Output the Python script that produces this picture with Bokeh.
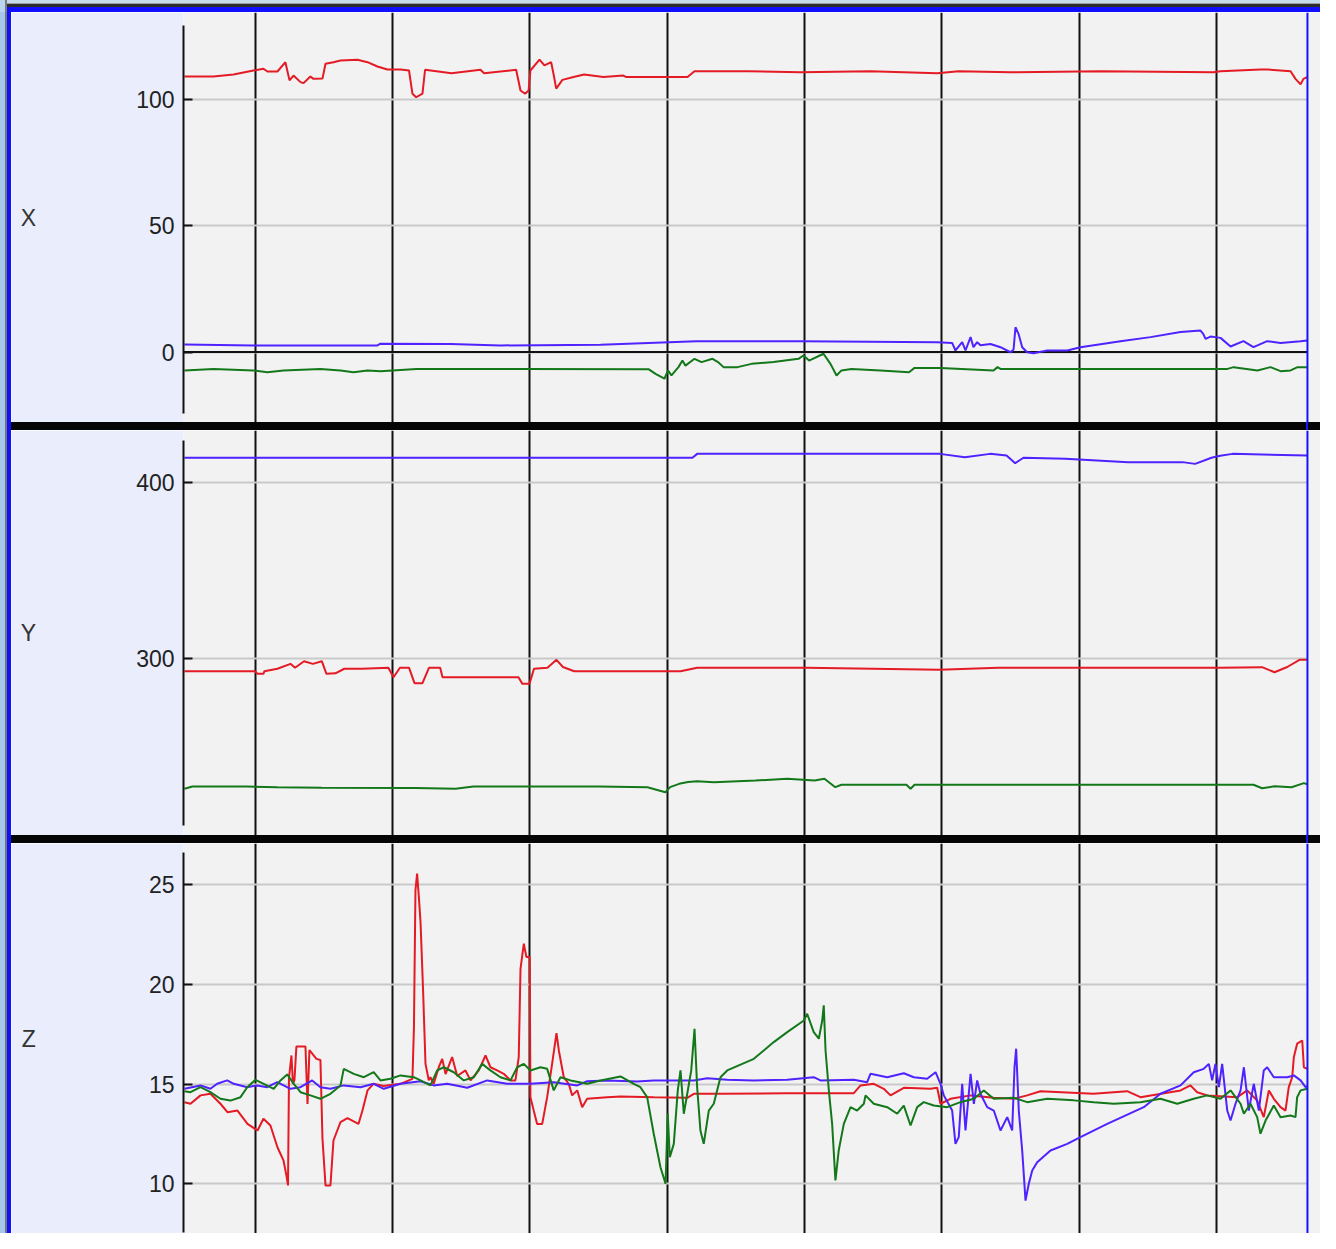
from bokeh.plotting import figure
from bokeh.layouts import column, row
from bokeh.models import Range1d, FixedTicker, Span, BoxAnnotation, Div
from bokeh.embed import file_html
from bokeh.resources import INLINE

# ---------------- data (time in s, values per channel) ----------------
grid_t = [1, 2, 3, 4, 5, 6, 7, 8]
cursor_t = 8.662
t_start, t_end = 0.478, 8.757

# Panel X
x_red_t = [0.485, 0.696, 0.842, 0.987, 1.060, 1.089, 1.162, 1.220, 1.250, 1.279, 1.330, 1.352,
           1.402, 1.424, 1.490, 1.512, 1.570, 1.621, 1.745, 1.818, 1.890, 1.963, 2.058, 2.120,
           2.145, 2.172, 2.218, 2.237, 2.429, 2.640, 2.667, 2.900, 2.932, 2.965, 2.991, 3.004,
           3.070, 3.106, 3.155, 3.172, 3.192, 3.237, 3.318, 3.395, 3.536, 3.681, 3.704, 4.148,
           4.199, 4.592, 4.971, 5.480, 5.966, 6.121, 6.500, 7.155, 7.978, 8.029, 8.320, 8.371,
           8.539, 8.575, 8.612, 8.633, 8.660]
x_red_v = [109.2, 109.2, 110.0, 111.6, 112.3, 111.2, 111.2, 114.9, 107.7, 109.6, 107.0, 106.6,
           109.2, 108.3, 108.4, 114.3, 114.9, 115.6, 115.9, 114.9, 113.2, 112.0, 112.0, 111.6,
           102.4, 101.0, 102.4, 111.9, 110.5, 111.9, 110.5, 111.9, 103.7, 102.4, 103.7, 111.6,
           115.9, 113.6, 114.9, 110.3, 104.4, 107.9, 109.0, 110.0, 109.0, 109.6, 109.0, 109.0,
           111.3, 111.3, 110.9, 111.3, 110.5, 111.3, 110.9, 111.3, 110.9, 111.3, 112.0, 112.0,
           111.3, 108.3, 106.1, 108.3, 109.0]

x_blue_t = [0.485, 0.987, 1.890, 1.912, 2.422, 2.786, 3.514, 4.213, 4.971, 5.966, 6.075, 6.099,
            6.148, 6.172, 6.209, 6.230, 6.257, 6.281, 6.354, 6.427, 6.500, 6.522, 6.536, 6.558,
            6.585, 6.621, 6.667, 6.767, 6.913, 7.009, 7.301, 7.519, 7.738, 7.883, 7.903, 7.920,
            7.956, 8.029, 8.102, 8.196, 8.269, 8.369, 8.466, 8.612, 8.660]
x_blue_v = [3.0, 2.6, 2.6, 3.3, 3.2, 2.6, 2.9, 4.3, 4.3, 3.9, 3.6, 0.6,
            3.9, 0.6, 5.9, 1.9, 3.9, 2.7, 3.2, 1.9, -0.1, 1.0, 9.8, 7.2,
            1.9, -0.1, -0.5, 0.6, 0.6, 1.9, 4.3, 5.9, 7.9, 8.5, 7.2, 5.2,
            6.1, 5.6, 2.2, 4.3, 1.9, 4.3, 3.6, 4.3, 4.6]

x_green_t = [0.485, 0.696, 0.987, 1.089, 1.206, 1.475, 1.621, 1.716, 1.818, 1.912, 2.174, 2.956,
             3.864, 3.915, 3.980, 4.006, 4.031, 4.082, 4.111, 4.133, 4.199, 4.250, 4.330, 4.370,
             4.410, 4.512, 4.614, 4.774, 4.956, 4.992, 5.033, 5.138, 5.189, 5.233, 5.269, 5.342,
             5.553, 5.761, 5.801, 5.990, 6.376, 6.405, 6.427, 8.080, 8.124, 8.298, 8.393, 8.466,
             8.539, 8.590, 8.660]
x_green_v = [-7.3, -6.7, -7.3, -8.0, -7.3, -6.7, -7.3, -8.0, -7.3, -7.6, -6.7, -6.7,
             -6.8, -8.7, -10.6, -7.3, -9.3, -6.0, -3.4, -5.4, -2.7, -4.0, -2.7, -4.0,
             -6.0, -6.0, -4.7, -4.0, -2.7, -1.4, -3.4, -0.7, -4.7, -9.3, -7.3, -6.7,
             -7.3, -8.0, -6.3, -6.3, -7.3, -6.0, -6.7, -6.7, -6.0, -7.3, -6.0, -7.6,
             -7.3, -6.0, -6.0]

# Panel Y
y_red_t = [0.485, 0.998, 1.017, 1.060, 1.067, 1.162, 1.257, 1.290, 1.356, 1.420, 1.485, 1.519,
           1.584, 1.649, 1.778, 1.970, 2.007, 2.054, 2.120, 2.160, 2.218, 2.266, 2.347, 2.364,
           2.917, 2.946, 2.997, 3.030, 3.128, 3.194, 3.241, 3.323, 4.097, 4.218, 5.011, 5.983,
           6.412, 8.022, 8.332, 8.422, 8.515, 8.604, 8.661]
y_red_v = [292.6, 292.6, 291.1, 291.1, 292.6, 294.0, 296.8, 294.6, 298.3, 296.8, 298.3, 291.1,
           291.4, 294.0, 294.0, 294.6, 289.2, 294.6, 294.6, 285.8, 285.8, 294.6, 294.6, 289.2,
           289.2, 285.4, 285.4, 294.0, 294.6, 299.1, 295.0, 292.6, 292.6, 294.6, 294.6, 293.4,
           294.6, 294.6, 294.9, 292.0, 295.0, 299.1, 299.1]

y_blue_t = [0.485, 4.184, 4.218, 5.986, 6.168, 6.351, 6.471, 6.534, 6.594, 6.900, 7.357, 7.752,
            7.844, 7.963, 8.027, 8.116, 8.661]
y_blue_v = [414.1, 414.1, 416.3, 416.3, 414.4, 416.3, 415.4, 411.0, 414.1, 413.5, 411.6, 411.6,
            410.6, 414.1, 415.2, 416.3, 415.4]

y_green_t = [0.485, 0.543, 0.933, 1.161, 1.485, 2.167, 2.458, 2.589, 3.500, 3.856, 3.987, 4.021,
             4.087, 4.151, 4.218, 4.341, 4.643, 4.874, 5.073, 5.145, 5.224, 5.269, 5.742, 5.772,
             5.801, 8.269, 8.332, 8.422, 8.546, 8.636, 8.661]
y_green_v = [225.7, 227.0, 227.0, 226.6, 226.3, 226.1, 225.7, 227.0, 227.0, 226.6, 223.7, 226.6,
             228.5, 229.5, 230.0, 229.4, 230.4, 231.4, 230.4, 231.4, 226.6, 228.0, 228.0, 225.7,
             228.0, 228.0, 226.0, 227.1, 226.6, 228.9, 228.3]

# Panel Z
z_red_t = [0.485, 0.529, 0.602, 0.674, 0.747, 0.798, 0.871, 0.944, 1.017, 1.060, 1.111, 1.162,
           1.206, 1.228, 1.239, 1.246, 1.264, 1.275, 1.286, 1.300, 1.366, 1.381, 1.395, 1.446,
           1.475, 1.490, 1.512, 1.548, 1.570, 1.621, 1.672, 1.752, 1.781, 1.818, 1.861, 1.934,
           2.058, 2.145, 2.156, 2.167, 2.179, 2.191, 2.204, 2.223, 2.240, 2.264, 2.276, 2.300,
           2.337, 2.362, 2.386, 2.434, 2.471, 2.531, 2.568, 2.628, 2.677, 2.713, 2.762, 2.810,
           2.859, 2.895, 2.919, 2.932, 2.956, 2.975, 2.999, 3.004, 3.028, 3.053, 3.090, 3.126,
           3.162, 3.194, 3.211, 3.247, 3.283, 3.308, 3.345, 3.381, 3.417, 3.563, 3.660, 3.902,
           4.146, 4.194, 4.388, 4.874, 5.359, 5.408, 5.504, 5.577, 5.626, 5.723, 5.917, 5.966,
           5.990, 6.063, 6.209, 6.378, 6.524, 6.621, 6.718, 7.104, 7.349, 7.446, 7.738, 7.810,
           7.859, 7.932, 8.151, 8.223, 8.296, 8.344, 8.381, 8.417, 8.466, 8.502, 8.526, 8.551,
           8.563, 8.587, 8.624, 8.636, 8.660]
z_red_v = [14.09, 14.01, 14.43, 14.51, 14.01, 13.59, 13.67, 13.00, 12.67, 13.26, 12.92, 11.83,
           11.17, 10.40, 9.92, 15.30, 16.43, 15.01, 15.20, 16.88, 16.88, 14.00, 16.70, 16.26,
           16.20, 12.26, 9.92, 9.92, 12.17, 13.09, 13.29, 13.00, 13.67, 14.68, 15.01, 14.90,
           15.01, 15.26, 17.85, 24.70, 25.54, 24.45, 23.10, 19.60, 16.01, 15.18, 15.34, 15.01,
           15.84, 16.26, 15.50, 16.35, 15.40, 15.68, 15.18, 15.68, 16.43, 15.84, 15.68, 15.51,
           15.18, 15.18, 16.35, 20.78, 22.03, 21.36, 21.36, 14.34, 13.67, 13.00, 13.00, 14.34,
           16.01, 17.55, 16.68, 15.34, 15.01, 14.43, 14.68, 13.84, 14.26, 14.34, 14.38, 14.34,
           14.31, 14.51, 14.51, 14.54, 14.54, 14.93, 15.01, 14.76, 14.43, 14.81, 14.76, 14.81,
           14.01, 14.26, 14.43, 14.31, 14.26, 14.43, 14.64, 14.51, 14.64, 14.34, 14.68, 14.93,
           14.59, 14.43, 14.34, 14.68, 14.17, 13.34, 14.68, 14.26, 13.84, 13.67, 14.84, 15.34,
           16.35, 17.02, 17.18, 15.84, 15.76]

z_blue_t = [0.485, 0.602, 0.674, 0.723, 0.796, 0.844, 0.942, 1.014, 1.087, 1.160, 1.257, 1.330,
            1.415, 1.475, 1.548, 1.645, 1.767, 1.863, 1.936, 2.058, 2.204, 2.300, 2.398, 2.544,
            2.689, 2.835, 3.004, 3.174, 3.345, 3.417, 3.563, 3.781, 3.902, 4.048, 4.194, 4.291,
            4.437, 4.631, 4.874, 5.067, 5.116, 5.359, 5.456, 5.480, 5.602, 5.723, 5.796, 5.893,
            5.954, 5.990, 6.014, 6.075, 6.099, 6.123, 6.148, 6.172, 6.209, 6.233, 6.257, 6.281,
            6.330, 6.378, 6.427, 6.476, 6.512, 6.529, 6.541, 6.560, 6.585, 6.609, 6.633, 6.658,
            6.694, 6.791, 6.913, 7.009, 7.204, 7.470, 7.592, 7.738, 7.834, 7.907, 7.944, 7.968,
            7.992, 8.017, 8.041, 8.078, 8.102, 8.138, 8.175, 8.199, 8.235, 8.271, 8.308, 8.344,
            8.369, 8.417, 8.515, 8.563, 8.612, 8.648, 8.660]
z_blue_v = [14.76, 14.93, 14.76, 15.01, 15.18, 15.01, 14.84, 14.93, 14.84, 15.09, 14.76, 14.84,
            15.18, 14.84, 14.76, 14.93, 14.84, 15.01, 14.76, 15.01, 15.14, 14.93, 15.01, 14.81,
            15.18, 15.01, 15.01, 15.09, 14.93, 15.14, 15.18, 15.13, 15.18, 15.18, 15.18, 15.29,
            15.21, 15.18, 15.21, 15.34, 15.18, 15.21, 15.09, 15.51, 15.34, 15.54, 15.34, 15.26,
            15.59, 15.01, 14.43, 13.67, 12.00, 12.34, 15.01, 12.67, 15.51, 14.01, 15.18, 14.51,
            13.84, 13.67, 12.67, 13.34, 12.67, 15.84, 16.77, 13.67, 11.67, 9.16, 10.00, 10.67,
            11.08, 11.67, 12.00, 12.34, 13.00, 13.84, 14.51, 14.93, 15.59, 15.76, 16.01, 15.18,
            16.01, 14.84, 16.01, 13.67, 13.17, 14.01, 14.68, 15.84, 13.67, 15.01, 13.67, 15.68,
            15.84, 15.34, 15.34, 15.43, 15.18, 14.84, 14.90]

z_green_t = [0.485, 0.529, 0.602, 0.674, 0.747, 0.820, 0.893, 0.942, 1.002, 1.062, 1.135, 1.184,
             1.233, 1.281, 1.330, 1.402, 1.475, 1.548, 1.621, 1.645, 1.718, 1.791, 1.863, 1.912,
             1.985, 2.058, 2.155, 2.204, 2.276, 2.325, 2.373, 2.446, 2.519, 2.592, 2.653, 2.713,
             2.786, 2.859, 2.908, 2.956, 3.004, 3.077, 3.126, 3.174, 3.223, 3.296, 3.417, 3.514,
             3.660, 3.757, 3.805, 3.854, 3.902, 3.951, 3.988, 4.004, 4.019, 4.048, 4.077, 4.097,
             4.121, 4.146, 4.175, 4.199, 4.218, 4.242, 4.266, 4.303, 4.339, 4.388, 4.437, 4.631,
             4.776, 4.874, 4.995, 5.019, 5.067, 5.104, 5.129, 5.140, 5.153, 5.177, 5.201, 5.225,
             5.249, 5.286, 5.335, 5.383, 5.432, 5.444, 5.504, 5.602, 5.675, 5.723, 5.772, 5.820,
             5.868, 5.941, 6.039, 6.135, 6.233, 6.305, 6.378, 6.524, 6.621, 6.767, 6.961, 7.106,
             7.252, 7.446, 7.592, 7.714, 7.834, 7.932, 8.029, 8.102, 8.175, 8.199, 8.247, 8.296,
             8.320, 8.357, 8.417, 8.466, 8.539, 8.575, 8.587, 8.612, 8.660]
z_green_v = [14.64, 14.59, 14.84, 14.59, 14.26, 14.17, 14.34, 14.84, 15.21, 15.01, 14.76, 15.18,
             15.48, 15.01, 14.59, 14.43, 14.26, 14.51, 14.93, 15.76, 15.51, 15.34, 15.59, 15.18,
             15.26, 15.43, 15.34, 15.18, 14.93, 15.68, 15.84, 15.59, 15.18, 15.34, 16.01, 15.68,
             15.34, 15.18, 15.84, 16.01, 15.68, 15.84, 15.76, 14.68, 15.34, 15.18, 15.01, 15.18,
             15.38, 15.01, 14.84, 14.34, 12.51, 10.83, 10.00, 13.51, 11.33, 12.00, 14.68, 15.68,
             13.51, 14.51, 15.68, 17.77, 14.84, 12.67, 12.00, 13.67, 14.01, 15.34, 15.68, 16.26,
             17.10, 17.60, 18.18, 18.52, 17.60, 17.27, 18.18, 18.94, 16.68, 14.68, 13.00, 10.17,
             11.67, 13.00, 13.84, 13.67, 14.01, 14.43, 14.01, 13.84, 13.51, 13.92, 12.92, 13.84,
             14.09, 13.92, 13.84, 14.09, 14.26, 14.68, 14.26, 14.31, 14.09, 14.26, 14.18, 14.09,
             14.01, 14.09, 14.26, 14.01, 14.26, 14.43, 14.26, 14.68, 14.01, 13.51, 14.01, 13.34,
             12.51, 13.17, 13.92, 13.34, 13.42, 13.34, 14.34, 14.68, 14.76]

panel_names = ["X", "Y", "Z"]
panel_ticks = [[0, 50, 100], [300, 400], [10, 15, 20, 25]]

# ---------------- styling ----------------
RED = "#E41A24"
BLUE = "#4F22FF"
GREEN = "#13781A"
LAVENDER = "#E9EDFC"
PLOT_BG = "#F2F2F2"
CURSOR = "#1414FF"
FONT = "Liberation Sans"
FIG_W = 1309


def make_panel(name, height, yrange, bounds, ticks, series, standoff, zero_line=False):
    p = figure(width=FIG_W, height=height,
               x_range=Range1d(t_start, t_end), y_range=Range1d(*yrange),
               x_axis_location=None, output_backend="svg", toolbar_location=None,
               min_border_left=172, min_border_right=0, min_border_top=0, min_border_bottom=0)
    p.background_fill_color = PLOT_BG
    p.border_fill_color = LAVENDER
    p.outline_line_color = None

    # vertical black time grid
    p.xgrid.ticker = FixedTicker(ticks=grid_t)
    p.xgrid.grid_line_color = "#111111"
    p.xgrid.grid_line_width = 2
    # horizontal value grid
    p.ygrid.ticker = FixedTicker(ticks=ticks)
    p.ygrid.grid_line_color = "#C9C9C9"
    p.ygrid.grid_line_width = 2

    ax = p.yaxis[0]
    ax.ticker = FixedTicker(ticks=ticks)
    ax.bounds = bounds
    ax.axis_line_color = "#111111"
    ax.axis_line_width = 2
    ax.major_tick_in = 9
    ax.major_tick_out = 0
    ax.major_tick_line_color = "#111111"
    ax.major_tick_line_width = 2
    ax.minor_tick_line_color = None
    ax.major_label_standoff = 9
    ax.major_label_text_font = FONT
    ax.major_label_text_font_size = "23px"
    ax.major_label_text_color = "#222222"
    ax.axis_label = name
    ax.axis_label_orientation = "horizontal"
    ax.axis_label_standoff = standoff
    ax.axis_label_text_font = FONT
    ax.axis_label_text_font_size = "23px"
    ax.axis_label_text_font_style = "normal"
    ax.axis_label_text_color = "#333333"

    if zero_line:
        p.add_layout(Span(location=0, dimension="width", line_color="#111111",
                          line_width=2, level="underlay"))
    # empty area right of the cursor
    p.add_layout(BoxAnnotation(left=cursor_t, fill_color=PLOT_BG, fill_alpha=1.0,
                               line_alpha=0, level="underlay"))

    for (tt, vv, col) in series:
        p.line(tt, vv, line_color=col, line_width=2)

    p.add_layout(Span(location=cursor_t, dimension="height", line_color=CURSOR,
                      line_width=2))
    return p


px = make_panel(panel_names[0], 410, (-27.95, 134.6), (-24.4, 129.5), panel_ticks[0],
                [(x_red_t, x_red_v, RED), (x_blue_t, x_blue_v, BLUE), (x_green_t, x_green_v, GREEN)],
                standoff=97, zero_line=True)
py = make_panel(panel_names[1], 405, (199.1, 429.6), (204.8, 423.9), panel_ticks[1],
                [(y_red_t, y_red_v, RED), (y_blue_t, y_blue_v, BLUE), (y_green_t, y_green_v, GREEN)],
                standoff=97)
pz = make_panel(panel_names[2], 390, (7.51, 27.05), (7.55, 26.6), panel_ticks[2],
                [(z_red_t, z_red_v, RED), (z_blue_t, z_blue_v, BLUE), (z_green_t, z_green_v, GREEN)],
                standoff=110)


def bar(w, h, background):
    return Div(text="", width=w, height=h, margin=0, styles={"background": background})


top_bg = ("linear-gradient(to right, #B9D6EE 0px, #B9D6EE 5px, #7C7C7C 5px, #7C7C7C 7px, "
          "rgba(0,0,0,0) 7px), "
          "linear-gradient(to bottom, #C6DCEA 0px, #C6DCEA 3px, #9AA0A6 3px, #9AA0A6 4px, "
          "#2E2E2E 4px, #2E2E2E 7px, #1010FF 7px, #1010FF 12px)")
left_bg = ("linear-gradient(to right, #A6C6EC 0px, #A6C6EC 5px, #747474 5px, #747474 7px, "
           "#1010FF 7px, #1010FF 11px)")
sep_bg = ("linear-gradient(to right, #050505 0px, #050505 1295px, " + CURSOR + " 1295px, "
          + CURSOR + " 1297px, #050505 1297px, #050505 100%)")

layout = column(
    bar(1320, 12, top_bg),
    row(bar(11, 1221, left_bg),
        column(px, bar(FIG_W, 8, sep_bg), py, bar(FIG_W, 8, sep_bg), pz, spacing=0),
        spacing=0),
    spacing=0,
)

open("out.html", "w").write(file_html(layout, INLINE))
